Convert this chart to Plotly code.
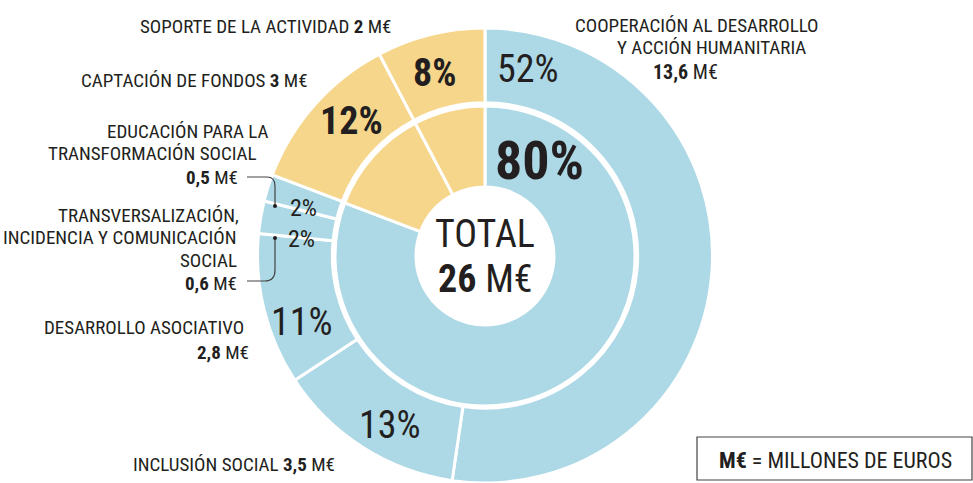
import plotly.graph_objects as go

W, H = 973, 483

# ---- data ----
outer_labels = ["Cooperación al desarrollo y acción humanitaria", "Inclusión social",
                "Desarrollo asociativo", "Transversalización, incidencia y comunicación social",
                "Educación para la transformación social", "Captación de fondos",
                "Soporte de la actividad"]
outer_values = [13.6, 3.5, 2.8, 0.6, 0.5, 3, 2]
outer_pct = [52, 13, 11, 2, 2, 12, 8]
inner_labels = ["Programas", "Captación de fondos", "Soporte de la actividad"]
inner_values = [21, 3, 2]
inner_pct = [80, 12, 8]
total_value = 26

BLUE = "#ADD8E6"
YELLOW = "#F6D68A"
outer_colors = [BLUE, BLUE, BLUE, BLUE, BLUE, YELLOW, YELLOW]
inner_colors = [BLUE, YELLOW, YELLOW]

FONT = "Liberation Sans Narrow, Roboto Condensed, Arial Narrow, Roboto, sans-serif"
TXT = "#231F20"

def px(x):
    return x / W

def py(y):
    return 1 - y / H

CX, CY = 485, 256
R_OUT, R_MID_OUT, R_MID_IN, R_HOLE = 228, 153, 150, 69

fig = go.Figure()
fig.add_trace(go.Pie(
    labels=outer_labels, values=outer_values, sort=False, direction="clockwise",
    rotation=0, hole=R_MID_OUT / R_OUT, textinfo="none", hoverinfo="label+value",
    marker=dict(colors=outer_colors, line=dict(color="white", width=3)),
    domain=dict(x=[px(CX - R_OUT), px(CX + R_OUT)], y=[max(0, py(CY + R_OUT)), py(CY - R_OUT)]),
    showlegend=False,
))
fig.add_trace(go.Pie(
    labels=inner_labels, values=inner_values, sort=False, direction="clockwise",
    rotation=0, hole=R_HOLE / R_MID_IN, textinfo="none", hoverinfo="label+value",
    marker=dict(colors=inner_colors, line=dict(color="white", width=3)),
    domain=dict(x=[px(CX - R_MID_IN), px(CX + R_MID_IN)], y=[py(CY + R_MID_IN), py(CY - R_MID_IN)]),
    showlegend=False,
))

ann = []

def add(text, x, y, size, anchor="center", bold=False):
    if bold:
        text = f"<b>{text}</b>"
    ann.append(dict(text=text, x=px(x), y=py(y), xref="paper", yref="paper",
                    xanchor=anchor, yanchor="middle", showarrow=False,
                    font=dict(family=FONT, size=size, color=TXT)))

def fmt(v):
    return f"{v:g}".replace(".", ",")

# percentages in the rings
add(f"{outer_pct[0]}%", 528, 69, 38)
add(f"{inner_pct[0]}%", 539, 161, 54, bold=True)
add(f"{outer_pct[6]}%", 434, 73, 38, bold=True)
add(f"{outer_pct[5]}%", 351, 121, 38, bold=True)
add(f"{outer_pct[4]}%", 303, 208, 24)
add(f"{outer_pct[3]}%", 301, 239, 24)
add(f"{outer_pct[2]}%", 302, 322, 38)
add(f"{outer_pct[1]}%", 390, 425, 38)

# total
add("TOTAL", CX, 234, 38)
add(f"<b>{total_value}</b> M€", CX, 279, 38)

# outside labels
B = 19
add(f"SOPORTE DE LA ACTIVIDAD <b>{fmt(outer_values[6])}</b> M€", 393, 27, B, "right")
add(f"CAPTACIÓN DE FONDOS <b>{fmt(outer_values[5])}</b> M€", 310, 81, B, "right")
add("EDUCACIÓN PARA LA", 270, 131, B, "right")
add("TRANSFORMACIÓN SOCIAL", 259, 153, B, "right")
add(f"<b>{fmt(outer_values[4])}</b> M€", 240, 177, B, "right")
add("TRANSVERSALIZACIÓN,", 241, 215, B, "right")
add("INCIDENCIA Y COMUNICACIÓN", 239, 238, B, "right")
add("SOCIAL", 239, 260, B, "right")
add(f"<b>{fmt(outer_values[3])}</b> M€", 239, 283, B, "right")
add("DESARROLLO ASOCIATIVO", 246, 327, B, "right")
add(f"<b>{fmt(outer_values[2])}</b> M€", 251, 352, B, "right")
add(f"INCLUSIÓN SOCIAL <b>{fmt(outer_values[1])}</b> M€", 337, 464, B, "right")
add("COOPERACIÓN AL DESARROLLO", 697, 26, B)
add("Y ACCIÓN HUMANITARIA", 711, 48, B)
add(f"<b>{fmt(outer_values[0])}</b> M€", 685, 72, 20)

# units legend box
add("<b>M€</b> = MILLONES DE EUROS", 835, 460, 22)

shapes = []
# leader lines
shapes.append(dict(type="path", xref="paper", yref="paper",
                   path=f"M {px(247)},{py(177)} L {px(267)},{py(177)} Q {px(275)},{py(177)} {px(275)},{py(186)} L {px(275)},{py(206)}",
                   line=dict(color="#444", width=1.2)))
shapes.append(dict(type="path", xref="paper", yref="paper",
                   path=f"M {px(247)},{py(281)} L {px(265)},{py(281)} Q {px(275)},{py(281)} {px(275)},{py(270)} L {px(275)},{py(238)}",
                   line=dict(color="#444", width=1.2)))
for dy in (206, 238):
    shapes.append(dict(type="circle", xref="paper", yref="paper",
                       x0=px(273), x1=px(277), y0=py(dy + 2), y1=py(dy - 2),
                       fillcolor="#231F20", line=dict(width=0)))
shapes.append(dict(type="rect", xref="paper", yref="paper",
                   x0=px(697), x1=px(972), y0=py(480), y1=py(437),
                   line=dict(color="#444", width=1.2), fillcolor="rgba(0,0,0,0)"))

fig.update_layout(
    width=W, height=H, margin=dict(l=0, r=0, t=0, b=0),
    paper_bgcolor="white", plot_bgcolor="white",
    annotations=ann, shapes=shapes,
    font=dict(family=FONT, color=TXT),
)

fig.write_html("out.html", config={"displayModeBar": False},
               post_script="document.body.style.margin='0';")
